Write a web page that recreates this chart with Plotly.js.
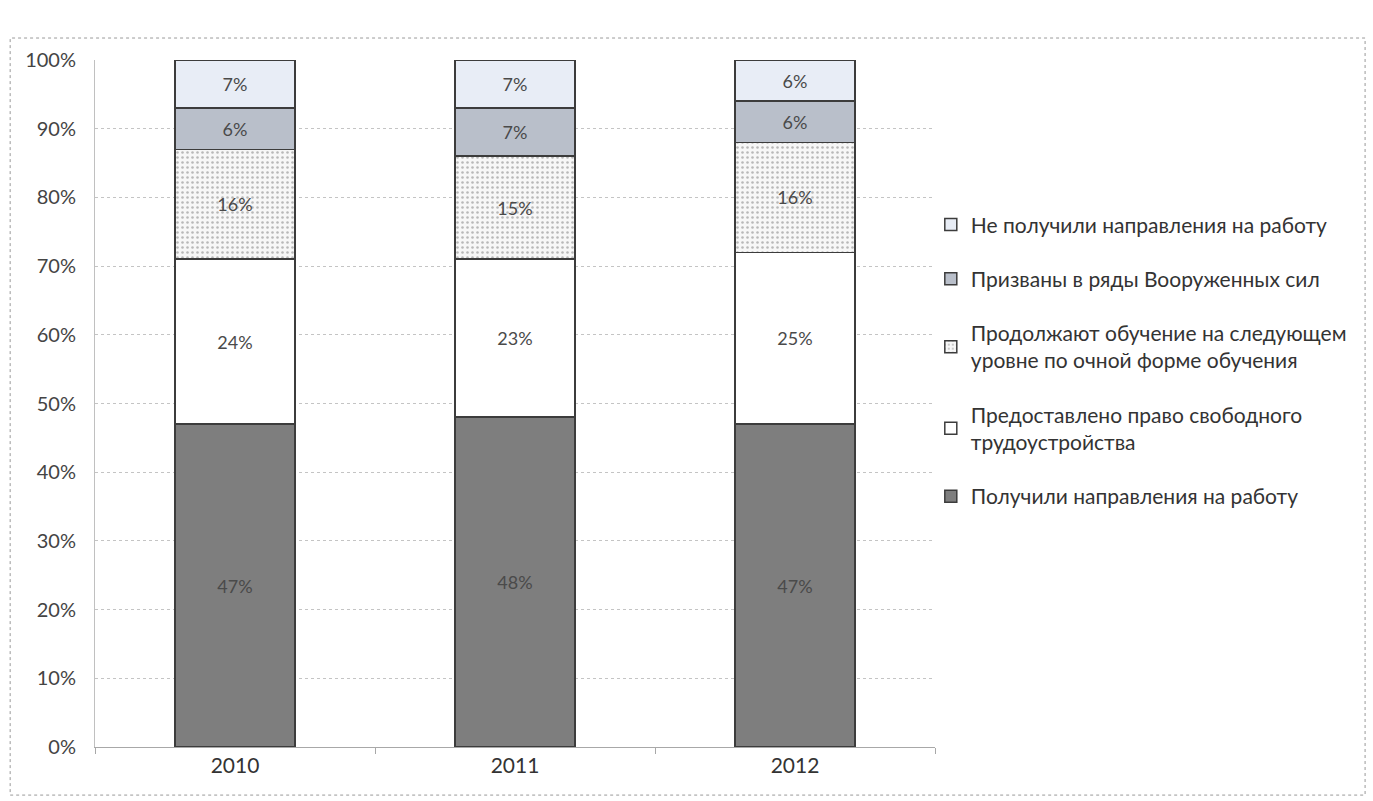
<!DOCTYPE html>
<html>
<head>
<meta charset="utf-8">
<script src="https://cdn.plot.ly/plotly-3.0.1.min.js"></script>
<style>html,body{margin:0;padding:0;background:#fff;}#chart{width:1373px;height:801px;}</style>
</head>
<body>
<div id="chart"></div>
<script>
const years = ['2010', '2011', '2012'];
const seriesNames = [
  'Получили направления на работу',
  'Предоставлено право свободного<br>трудоустройства',
  'Продолжают обучение на следующем<br>уровне по очной форме обучения',
  'Призваны в ряды Вооруженных сил',
  'Не получили направления на работу'
];
const gotReferral = [47, 48, 47];
const freeEmployment = [24, 23, 25];
const continueStudy = [16, 15, 16];
const army = [6, 7, 6];
const noReferral = [7, 7, 6];
const yTicks = [0, 10, 20, 30, 40, 50, 60, 70, 80, 90, 100];

const seriesValues = [gotReferral, freeEmployment, continueStudy, army, noReferral];
const fills = ['#7e7e7e', '#ffffff', '#f3f3f3', '#b9bfca', '#e8edf6'];

const traces = seriesValues.map((vals, i) => {
  const t = {
    type: 'bar',
    name: seriesNames[i],
    x: years,
    y: vals,
    legendgroup: 'g' + i,
    legendrank: 1000 - i,
    texttemplate: '%{y}%',
    textposition: 'inside',
    insidetextanchor: 'middle',
    textangle: 0,
    textfont: {family: 'Lato, sans-serif', size: 18, color: '#4a4a4a'},
    marker: {color: fills[i], line: {color: '#3c3c3c', width: 1.5}},
    hoverinfo: 'x+y+name'
  };
  if (i === 2) {
    t.marker.pattern = {shape: '.', fgcolor: '#b8b8b8', bgcolor: '#f7f7f7', size: 5, solidity: 0.2};
  }
  return t;
});

const layout = {
  width: 1373,
  height: 801,
  margin: {l: 95, r: 438, t: 60, b: 54},
  paper_bgcolor: '#ffffff',
  plot_bgcolor: '#ffffff',
  barmode: 'stack',
  bargap: 0.57,
  font: {family: 'Lato, sans-serif', color: '#444'},
  showlegend: true,
  legend: {
    x: 0.995, xanchor: 'left',
    y: 0.79, yanchor: 'top',
    traceorder: 'grouped',
    tracegroupgap: 24,
    bgcolor: 'rgba(0,0,0,0)',
    font: {family: 'Lato, sans-serif', size: 21, color: '#333'},
    itemwidth: 30
  },
  xaxis: {
    type: 'category',
    showgrid: false,
    showline: true,
    linecolor: '#a8a8a8',
    linewidth: 1,
    ticks: 'outside',
    tickson: 'boundaries',
    ticklen: 6,
    tickcolor: '#a8a8a8',
    tickfont: {family: 'Lato, sans-serif', size: 21, color: '#333'}
  },
  yaxis: {
    range: [0, 100],
    tickvals: yTicks,
    ticktext: yTicks.map(v => v + '%'),
    showgrid: true,
    gridcolor: '#c4c4c4',
    gridwidth: 1,
    griddash: 'dot',
    showline: true,
    linecolor: '#c0c0c0',
    zeroline: false,
    ticks: '',
    ticklabelstandoff: 14,
    tickfont: {family: 'Lato, sans-serif', size: 20, color: '#444'}
  },
  shapes: [{
    type: 'rect', xref: 'paper', yref: 'paper',
    x0: -0.101, x1: 1.512, y0: -0.07, y1: 1.032,
    line: {color: '#9a9a9a', width: 1, dash: 'dot'},
    fillcolor: 'rgba(0,0,0,0)',
    layer: 'below'
  }]
};

Plotly.newPlot('chart', traces, layout, {displayModeBar: false, staticPlot: true});
</script>
</body>
</html>
